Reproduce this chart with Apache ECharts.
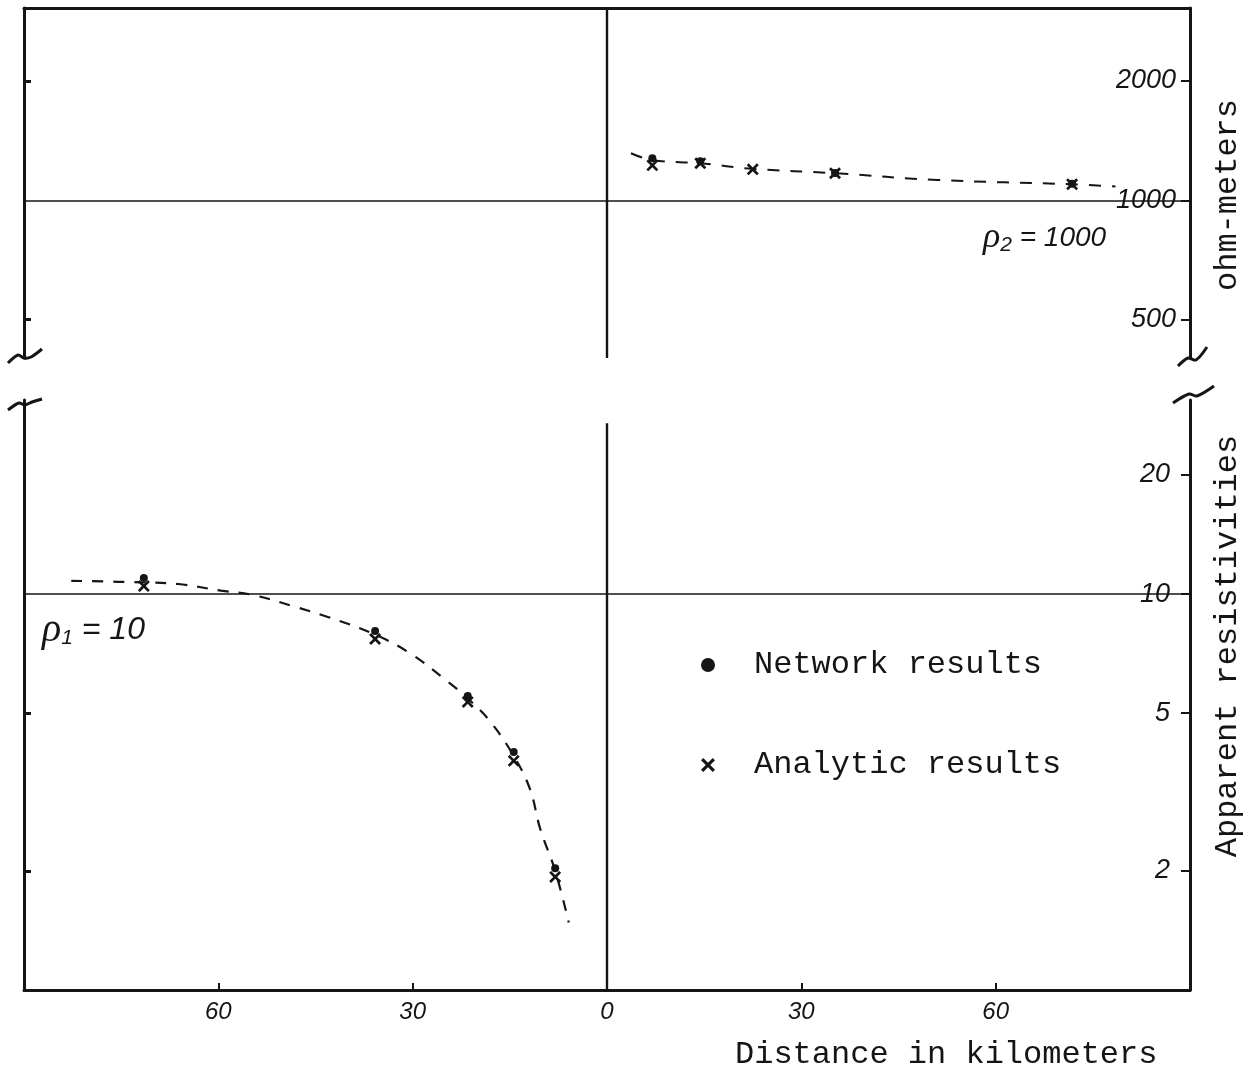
<!DOCTYPE html>
<html>
<head>
<meta charset="utf-8">
<script src="https://cdn.jsdelivr.net/npm/echarts@6.0.0/dist/echarts.min.js"></script>
<style>
  html, body { margin: 0; padding: 0; background: #fff; }
  #chart { width: 1257px; height: 1075px; }
</style>
</head>
<body>
<div id="chart"></div>
<script>
// distance (km, negative = left of the contact) and apparent resistivity (ohm-m)
const topCurveKm = [3.7, 7, 14.4, 22.5, 35.2, 51, 71.8, 78.5];
const topCurveRho = [1314, 1262, 1240, 1200, 1170, 1125, 1097, 1083];
const topNetKm = [7, 14.4, 35.2, 71.8];
const topNetRho = [1277, 1255, 1172, 1100];
const topAnaKm = [7, 14.4, 22.5, 35.2, 71.8];
const topAnaRho = [1225, 1240, 1197, 1170, 1097];

const botCurveKm = [-82.7, -72, -66.2, -59.6, -54.6, -48.6, -43.1, -35.8, -30.2, -24.7, -21.5, -18.1, -14.4, -11.9, -10.3, -8, -5.9];
const botCurveRho = [10.8, 10.7, 10.6, 10.2, 9.94, 9.33, 8.75, 7.9, 7.05, 6.03, 5.45, 4.78, 3.9, 3.22, 2.55, 2.0, 1.48];
const botNetKm = [-71.5, -35.8, -21.5, -14.4, -8];
const botNetRho = [10.97, 8.06, 5.53, 3.99, 2.03];
const botAnaKm = [-71.5, -35.8, -21.5, -14.4, -8];
const botAnaRho = [10.47, 7.7, 5.34, 3.79, 1.93];

const topTicks = [500, 1000, 2000];
const topLeftTicks = [500, 2000];
const botTicks = [2, 5, 10, 20];
const botLeftTicks = [2, 5];
const xLabels = [-60, -30, 0, 30, 60];

const INK = '#151515';
const TYPE = '"Liberation Mono"';
const crossPath = 'path://M0,1.6L1.6,0L5,3.4L8.4,0L10,1.6L6.6,5L10,8.4L8.4,10L5,6.6L1.6,10L0,8.4L3.4,5Z';

let pairs = (xs, ys) => xs.map((x, i) => [x, ys[i]]);

let chart = echarts.init(document.getElementById('chart'), null, { renderer: 'canvas' });

let axisLine = { show: true, onZero: false, lineStyle: { color: INK, width: 3 } };
let handLabel = { fontFamily: 'Liberation Sans', fontStyle: 'italic', fontSize: 27, color: INK, formatter: v => String(v) };

let option = {
    backgroundColor: '#fff',
    animation: false,
    textStyle: { fontFamily: TYPE, color: INK },
    grid: [
        { left: 24, right: 67, top: 8, height: 350, outerBoundsMode: 'none' },
        { left: 24, right: 67, top: 400, height: 590, outerBoundsMode: 'none' }
    ],
    xAxis: [
        {
            gridIndex: 0, type: 'value', min: -90, max: 90, interval: 30, position: 'top',
            axisLine: axisLine, axisTick: { show: false }, axisLabel: { show: false }, splitLine: { show: false }
        },
        {
            gridIndex: 1, type: 'value', min: -90, max: 90, interval: 30, position: 'bottom',
            axisLine: axisLine,
            axisTick: { show: true, inside: true, length: 7, lineStyle: { color: INK, width: 2 } },
            axisLabel: Object.assign({}, handLabel, {
                margin: 10,
                fontSize: 24,
                customValues: xLabels,
                formatter: v => String(Math.abs(v))
            }),
            splitLine: { show: false }
        }
    ],
    yAxis: [
        {
            gridIndex: 0, type: 'log', min: 400, max: 3055, position: 'left',
            axisLine: axisLine,
            axisTick: { show: true, inside: true, length: 7, customValues: topLeftTicks, lineStyle: { color: INK, width: 3 } },
            axisLabel: { show: false }, splitLine: { show: false }
        },
        {
            gridIndex: 0, type: 'log', min: 400, max: 3055, position: 'right',
            axisLine: axisLine,
            axisTick: { show: true, inside: true, length: 9, customValues: topTicks, lineStyle: { color: INK, width: 2 } },
            axisLabel: Object.assign({ inside: true, margin: 14, customValues: topTicks }, handLabel),
            splitLine: { show: false }
        },
        {
            gridIndex: 1, type: 'log', min: 1, max: 30.9, position: 'left',
            axisLine: axisLine,
            axisTick: { show: true, inside: true, length: 7, customValues: botLeftTicks, lineStyle: { color: INK, width: 3 } },
            axisLabel: { show: false }, splitLine: { show: false }
        },
        {
            gridIndex: 1, type: 'log', min: 1, max: 30.9, position: 'right',
            axisLine: axisLine,
            axisTick: { show: true, inside: true, length: 9, customValues: botTicks, lineStyle: { color: INK, width: 2 } },
            axisLabel: Object.assign({ inside: true, margin: 20, customValues: botTicks }, handLabel),
            splitLine: { show: false }
        }
    ],
    legend: {
        data: ['Network results', 'Analytic results'],
        orient: 'vertical',
        left: 696, top: 644,
        itemWidth: 82, itemHeight: 14, itemGap: 68,
        selectedMode: false,
        textStyle: { fontFamily: TYPE, fontSize: 32, lineHeight: 32, color: INK }
    },
    series: [
        {
            type: 'line', xAxisIndex: 0, yAxisIndex: 1, smooth: 0.4, symbol: 'none',
            data: pairs(topCurveKm, topCurveRho),
            lineStyle: { color: INK, width: 2, type: [12, 11] },
            markLine: {
                silent: true, symbol: ['none', 'none'], label: { show: false },
                lineStyle: { color: INK, type: 'solid', width: 1.6 },
                data: [{ yAxis: 1000 }, { xAxis: 0, lineStyle: { width: 2.4 } }]
            }
        },
        {
            name: 'Network results', type: 'scatter', xAxisIndex: 0, yAxisIndex: 1,
            symbol: 'circle', symbolSize: 8, itemStyle: { color: INK, opacity: 1 },
            data: pairs(topNetKm, topNetRho), z: 5
        },
        {
            name: 'Analytic results', type: 'scatter', xAxisIndex: 0, yAxisIndex: 1,
            symbol: crossPath, symbolSize: 12, itemStyle: { color: INK, opacity: 1 },
            data: pairs(topAnaKm, topAnaRho), z: 5
        },
        {
            type: 'line', xAxisIndex: 1, yAxisIndex: 3, smooth: 0.4, symbol: 'none',
            data: pairs(botCurveKm, botCurveRho),
            lineStyle: { color: INK, width: 2.2, type: [11, 10] },
            markLine: {
                silent: true, symbol: ['none', 'none'], label: { show: false },
                lineStyle: { color: INK, type: 'solid', width: 1.6 },
                data: [
                    { yAxis: 10 },
                    [{ coord: [0, 27], lineStyle: { width: 2.4 } }, { coord: [0, 1] }]
                ]
            }
        },
        {
            name: 'Network results', type: 'scatter', xAxisIndex: 1, yAxisIndex: 3,
            symbol: 'circle', symbolSize: 8, itemStyle: { color: INK, opacity: 1 },
            data: pairs(botNetKm, botNetRho), z: 5
        },
        {
            name: 'Analytic results', type: 'scatter', xAxisIndex: 1, yAxisIndex: 3,
            symbol: crossPath, symbolSize: 12, itemStyle: { color: INK, opacity: 1 },
            data: pairs(botAnaKm, botAnaRho), z: 5
        }
    ],
    graphic: [
        // axis titles (typewriter)
        {
            type: 'text', x: 1228, y: 195, rotation: Math.PI / 2,
            style: { text: 'ohm-meters', font: '32px ' + TYPE, fill: INK, align: 'center', verticalAlign: 'middle', textAlign: 'center', textVerticalAlign: 'middle' }
        },
        {
            type: 'text', x: 1228, y: 646, rotation: Math.PI / 2,
            style: { text: 'Apparent resistivities', font: '32px ' + TYPE, fill: INK, align: 'center', verticalAlign: 'middle', textAlign: 'center', textVerticalAlign: 'middle' }
        },
        {
            type: 'text', left: 735, top: 1039,
            style: { text: 'Distance in kilometers', font: '32px ' + TYPE, fill: INK }
        },
        // handwritten layer resistivities
        {
            type: 'text', left: 983, top: 220,
            style: {
                text: '{r|ρ}{s|2}{t| = 1000}',
                rich: {
                    r: { font: 'italic 36px "Liberation Serif"', fill: INK },
                    s: { font: 'italic 21px "Liberation Sans"', fill: INK, padding: [14, 0, 0, 0] },
                    t: { font: 'italic 28px "Liberation Sans"', fill: INK }
                }
            }
        },
        {
            type: 'text', left: 42, top: 610,
            style: {
                text: '{r|ρ}{s|1}{t| = 10}',
                rich: {
                    r: { font: 'italic 40px "Liberation Serif"', fill: INK },
                    s: { font: 'italic 21px "Liberation Sans"', fill: INK, padding: [16, 0, 0, 0] },
                    t: { font: 'italic 32px "Liberation Sans"', fill: INK }
                }
            }
        },
        // axis break marks
        {
            type: 'polyline', shape: { points: [[8, 363], [18, 355], [24, 358], [31, 357], [42, 349]], smooth: 0.3 },
            style: { stroke: INK, lineWidth: 3, fill: null }
        },
        {
            type: 'polyline', shape: { points: [[8, 410], [19, 403], [25, 405], [32, 402], [42, 399]], smooth: 0.3 },
            style: { stroke: INK, lineWidth: 3, fill: null }
        },
        {
            type: 'polyline', shape: { points: [[1178, 366], [1188, 358], [1196, 360], [1207, 347]], smooth: 0.3 },
            style: { stroke: INK, lineWidth: 3, fill: null }
        },
        {
            type: 'polyline', shape: { points: [[1173, 403], [1189, 394], [1197, 396], [1214, 386]], smooth: 0.3 },
            style: { stroke: INK, lineWidth: 3, fill: null }
        }
    ]
};

chart.setOption(option);
</script>
</body>
</html>
